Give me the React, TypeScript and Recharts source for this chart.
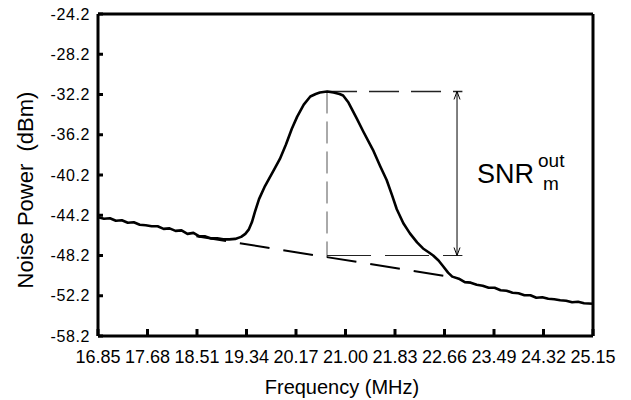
import React from "react"
import {
  LineChart,
  Line,
  XAxis,
  YAxis,
  ReferenceLine,
} from "recharts"

// frequency axis (MHz)
const X_TICKS = [16.85, 17.68, 18.51, 19.34, 20.17, 21.0, 21.83, 22.66, 23.49, 24.32, 25.15]
const X_TICK_LABELS = ["16.85", "17.68", "18.51", "19.34", "20.17", "21.00", "21.83", "22.66", "23.49", "24.32", "25.15"]

// power axis (dBm) - bottom label is printed as -58.2 on the original
const Y_TICKS = [-24.2, -28.2, -32.2, -36.2, -40.2, -44.2, -48.2, -52.2, -56.2]
const Y_TICK_LABELS = ["-24.2", "-28.2", "-32.2", "-36.2", "-40.2", "-44.2", "-48.2", "-52.2", "-58.2"]

// measured spectrum trace
const TRACE_FREQ = [
  16.85, 16.95, 17.05, 17.15, 17.25, 17.35, 17.45, 17.55, 17.65, 17.75,
  17.85, 17.95, 18.05, 18.15, 18.25, 18.35, 18.45, 18.55, 18.65, 18.75,
  18.85, 18.95, 19.05, 19.15, 19.25, 19.32, 19.38, 19.43, 19.48, 19.55,
  19.65, 19.8, 19.9, 20.0, 20.1, 20.19, 20.3, 20.41, 20.5, 20.57,
  20.69, 20.8, 20.9, 20.96, 21.05, 21.19, 21.3, 21.46, 21.58, 21.69,
  21.78, 21.86, 21.97, 22.08, 22.2, 22.3, 22.4, 22.47, 22.56, 22.64,
  22.72, 22.79, 22.9, 23.0, 23.1, 23.2, 23.3, 23.4, 23.5, 23.6,
  23.7, 23.8, 23.9, 24.0, 24.1, 24.2, 24.3, 24.4, 24.5, 24.6,
  24.7, 24.8, 24.9, 25.0, 25.15,
]
const TRACE_DBM = [
  -44.4, -44.55, -44.5, -44.75, -44.7, -44.95, -44.9, -45.15, -45.2, -45.3,
  -45.3, -45.55, -45.5, -45.75, -45.7, -46.05, -45.95, -46.3, -46.3, -46.5,
  -46.5, -46.6, -46.6, -46.55, -46.35, -46.05, -45.6, -44.9, -43.9, -42.6,
  -41.3, -39.7, -38.6, -37.2, -35.6, -34.4, -33.2, -32.4, -32.15, -32.0,
  -31.9, -32.0, -32.15, -32.3, -33.0, -34.6, -35.9, -37.7, -39.3, -40.7,
  -42.2, -43.6, -45.0, -46.0, -46.9, -47.5, -47.9, -48.2, -48.7, -49.3,
  -49.9, -50.3, -50.5, -50.85, -50.9, -51.1, -51.2, -51.4, -51.4, -51.65,
  -51.7, -51.9, -51.95, -52.15, -52.15, -52.4, -52.35, -52.5, -52.55, -52.65,
  -52.7, -52.85, -52.8, -52.95, -53.0,
]

// dashed noise-floor estimate under the peak
const BASE_FREQ = [18.5, 22.85]
const BASE_DBM = [-46.3, -50.4]

// SNR annotation
const PEAK_FREQ = 20.69
const PEAK_DBM = -31.9
const FLOOR_AT_PEAK = -48.36
const MARK_LEVEL = -48.2
const GUIDE_END = 22.96
const ARROW_FREQ = 22.87

const trace = TRACE_FREQ.map((f, i) => ({ f, v: TRACE_DBM[i] }))
const base = BASE_FREQ.map((f, i) => ({ f, v: BASE_DBM[i] }))

const FONT = "'Liberation Sans', Arial, sans-serif"

const ArrowShape = (props: any) => {
  const { x1, y1, x2, y2 } = props
  const top = Math.min(y1, y2)
  const bot = Math.max(y1, y2)
  return (
    <g>
      <line x1={x1} y1={top} x2={x2} y2={bot} stroke="#000" strokeWidth={1} />
      <path d={`M${x1 - 3},${top + 8} L${x1},${top} L${x1 + 3},${top + 8}`} fill="none" stroke="#000" strokeWidth={1} />
      <path d={`M${x1 - 3},${bot - 8} L${x1},${bot} L${x1 + 3},${bot - 8}`} fill="none" stroke="#000" strokeWidth={1} />
    </g>
  )
}

export default function App() {
  return (
    <div style={{ position: "absolute", left: 0, top: 0, width: 631, height: 400, background: "#fff" }}>
      <LineChart width={631} height={400} margin={{ top: 0, right: 0, bottom: 0, left: 0 }}>
        {/* negative tickSize = marks point into the plot */}
        <XAxis
          dataKey="f"
          type="number"
          domain={[16.85, 25.15]}
          ticks={X_TICKS}
          tickFormatter={(v, i) => X_TICK_LABELS[i] ?? String(v)}
          interval={0}
          height={64}
          axisLine={{ stroke: "#000", strokeWidth: 3 }}
          tickLine={{ stroke: "#000", strokeWidth: 3 }}
          tickSize={-7}
          tickMargin={21}
          tick={{ fill: "#000", fontSize: 18, fontFamily: FONT }}
          allowDataOverflow
        />
        <XAxis
          xAxisId="top"
          orientation="top"
          type="number"
          domain={[0, 1]}
          height={14}
          tick={false}
          tickLine={false}
          axisLine={{ stroke: "#000", strokeWidth: 3 }}
        />
        <YAxis
          type="number"
          domain={[-56.2, -24.2]}
          ticks={Y_TICKS}
          tickFormatter={(v, i) => Y_TICK_LABELS[i] ?? String(v)}
          interval={0}
          width={98}
          axisLine={{ stroke: "#000", strokeWidth: 3 }}
          tickLine={{ stroke: "#000", strokeWidth: 3 }}
          tickSize={-5}
          tickMargin={13}
          tick={{ fill: "#000", fontSize: 16, fontFamily: FONT, letterSpacing: 0.6 }}
          allowDataOverflow
        />
        <YAxis
          yAxisId="right"
          orientation="right"
          type="number"
          domain={[0, 1]}
          width={38}
          tick={false}
          tickLine={false}
          axisLine={{ stroke: "#000", strokeWidth: 3 }}
        />

        <ReferenceLine
          segment={[{ x: PEAK_FREQ, y: PEAK_DBM }, { x: PEAK_FREQ, y: FLOOR_AT_PEAK }]}
          stroke="#555"
          strokeWidth={1}
          strokeDasharray="22 8"
        />
        <ReferenceLine
          segment={[{ x: PEAK_FREQ, y: PEAK_DBM }, { x: GUIDE_END, y: PEAK_DBM }]}
          stroke="#222"
          strokeWidth={1.5}
          strokeDasharray="30 12"
        />
        <ReferenceLine
          segment={[{ x: PEAK_FREQ, y: MARK_LEVEL }, { x: GUIDE_END, y: MARK_LEVEL }]}
          stroke="#222"
          strokeWidth={1.2}
          strokeDasharray="44 14"
        />
        <ReferenceLine
          segment={[{ x: ARROW_FREQ, y: PEAK_DBM }, { x: ARROW_FREQ, y: MARK_LEVEL }]}
          shape={ArrowShape}
        />

        <Line
          data={base}
          dataKey="v"
          type="linear"
          stroke="#000"
          strokeWidth={2}
          strokeDasharray="30 14"
          dot={false}
          activeDot={false}
          isAnimationActive={false}
        />
        <Line
          data={trace}
          dataKey="v"
          type="linear"
          stroke="#000"
          strokeWidth={2.6}
          strokeLinejoin="round"
          dot={false}
          activeDot={false}
          isAnimationActive={false}
        />

        <text
          x={33}
          y={190}
          transform="rotate(-90, 33, 190)"
          textAnchor="middle"
          fontFamily={FONT}
          fontSize={22}
          fill="#000"
          style={{ whiteSpace: "pre" }}
        >
          {"Noise Power  (dBm)"}
        </text>
        <text x={342} y={394} textAnchor="middle" fontFamily={FONT} fontSize={20} fill="#000">
          Frequency (MHz)
        </text>
        <text x={477} y={183} fontFamily={FONT} fontSize={27} fill="#000">
          SNR
        </text>
        <text x={538} y={167} fontFamily={FONT} fontSize={19} fill="#000">
          out
        </text>
        <text x={543} y={190} fontFamily={FONT} fontSize={19} fill="#000">
          m
        </text>
      </LineChart>
    </div>
  )
}
